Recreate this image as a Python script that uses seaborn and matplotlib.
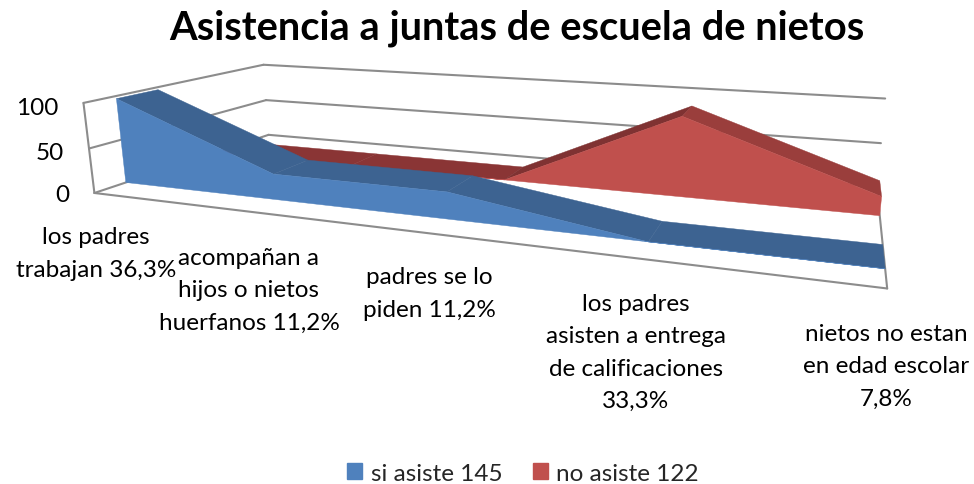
import numpy as np
import matplotlib
matplotlib.use("Agg")
import matplotlib.pyplot as plt
from matplotlib.patches import Patch
import seaborn as sns

categories = ["los padres\ntrabajan 36,3%",
              "acompañan a\nhijos o nietos\nhuerfanos 11,2%",
              "padres se lo\npiden 11,2%",
              "los padres\nasisten a entrega\nde calificaciones\n33,3%",
              "nietos no estan\nen edad escolar\n7,8%"]
si_asiste = [97, 28, 28, 0, 0]
no_asiste = [0, 0, 0, 88, 20]
y_ticks = [0, 50, 100]

BLUE, BLUE_TOP = "#4F81BD", "#3D6391"
RED, RED_TOP, RED_UP, RED_FLAT = "#C0504D", "#9A3E3C", "#7F3232", "#8A3535"
GRID = "#8C8C8C"

sns.set_theme(style="white")
plt.rcParams["font.family"] = ["Lato", "DejaVu Sans"]

# camera: wall corners (category, depth, value) -> image pixels
world = [(0, 0, 0), (4, 0, 0), (0, 1, 0), (4, 1, 0), (0, 0, 100), (0, 1, 100),
         (4, 1, 100), (0, 0, 50), (0, 1, 50), (4, 1, 50)]
image = [(95, 194), (887, 290), (268, 136), (877, 187), (83, 103), (264, 66),
         (885, 100), (89, 150), (266, 101), (881, 144)]

rows = []
for (X, D, Z), (u, v) in zip(world, image):
    rows.append([X, D, Z, 1, 0, 0, 0, 0, -u * X, -u * D, -u * Z, -u])
    rows.append([0, 0, 0, 0, X, D, Z, 1, -v * X, -v * D, -v * Z, -v])
cam = np.linalg.svd(np.array(rows, float))[2][-1].reshape(3, 4)


def project(x, d, z):
    p = cam @ np.array([x, d, z, 1.0])
    return p[0] / p[2], p[1] / p[2]


def face(ax, pts, color):
    xy = [project(*p) for p in pts]
    ax.fill(*zip(*xy), color=color, lw=0.3, zorder=3)


def line(ax, a, b):
    xy = [project(*a), project(*b)]
    ax.plot(*zip(*xy), color=GRID, lw=1.5, zorder=1, solid_capstyle="round")


def area(ax, vals, d0, d1, front, tops):
    n = len(vals)
    for i in range(n - 1):
        up = vals[i + 1] > vals[i]
        flat = vals[i + 1] == vals[i]
        c = tops[1] if up else tops[2] if flat else tops[0]
        face(ax, [(i, d0, vals[i]), (i + 1, d0, vals[i + 1]),
                  (i + 1, d1, vals[i + 1]), (i, d1, vals[i])], c)
    base = [(i, d0, v) for i, v in enumerate(vals)] + [(n - 1, d0, 0), (0, d0, 0)]
    face(ax, base, front)


fig = plt.figure(figsize=(9.74, 4.85), dpi=100)
ax = fig.add_axes([0, 0, 1, 1])
ax.set_xlim(0, 974)
ax.set_ylim(485, 0)
ax.axis("off")

for t in y_ticks:
    line(ax, (0, 0, t), (0, 1, t))
    line(ax, (0, 1, t), (4, 1, t))
    u, v = project(0, 0, t)
    ax.text(u - 25, v + 2 + t * 0.03, str(t), ha="right", va="center", fontsize=17.5, color="black")
line(ax, (0, 0, 0), (0, 0, 100))
line(ax, (0, 0, 0), (4, 0, 0))
line(ax, (4, 0, 0), (4, 1, 0))

area(ax, no_asiste, 0.64, 0.84, RED, (RED_TOP, RED_UP, RED_FLAT))
area(ax, si_asiste, 0.145, 0.35, BLUE, (BLUE_TOP, BLUE_TOP, BLUE_TOP))

label_pos = [(96, 254), (249, 291), (429, 294), (636, 353), (886, 367)]
for txt, (u, v) in zip(categories, label_pos):
    ax.text(u, v, txt, ha="center", va="center", fontsize=17.5, color="black",
            linespacing=1.68)

fig.text(0.531, 0.942, "Asistencia a juntas de escuela de nietos", ha="center",
         va="center", fontsize=28.7, fontweight="bold", color="black")

handles = [Patch(color=BLUE, label="si asiste 145"), Patch(color=RED, label="no asiste 122")]
fig.legend(handles=handles, loc="center", bbox_to_anchor=(0.537, 0.022), ncol=2, frameon=False,
           fontsize=17.5, handlelength=0.62, handleheight=0.62, handletextpad=0.35,
           columnspacing=1.25, borderpad=0)

fig.savefig("out.png", dpi=100)
